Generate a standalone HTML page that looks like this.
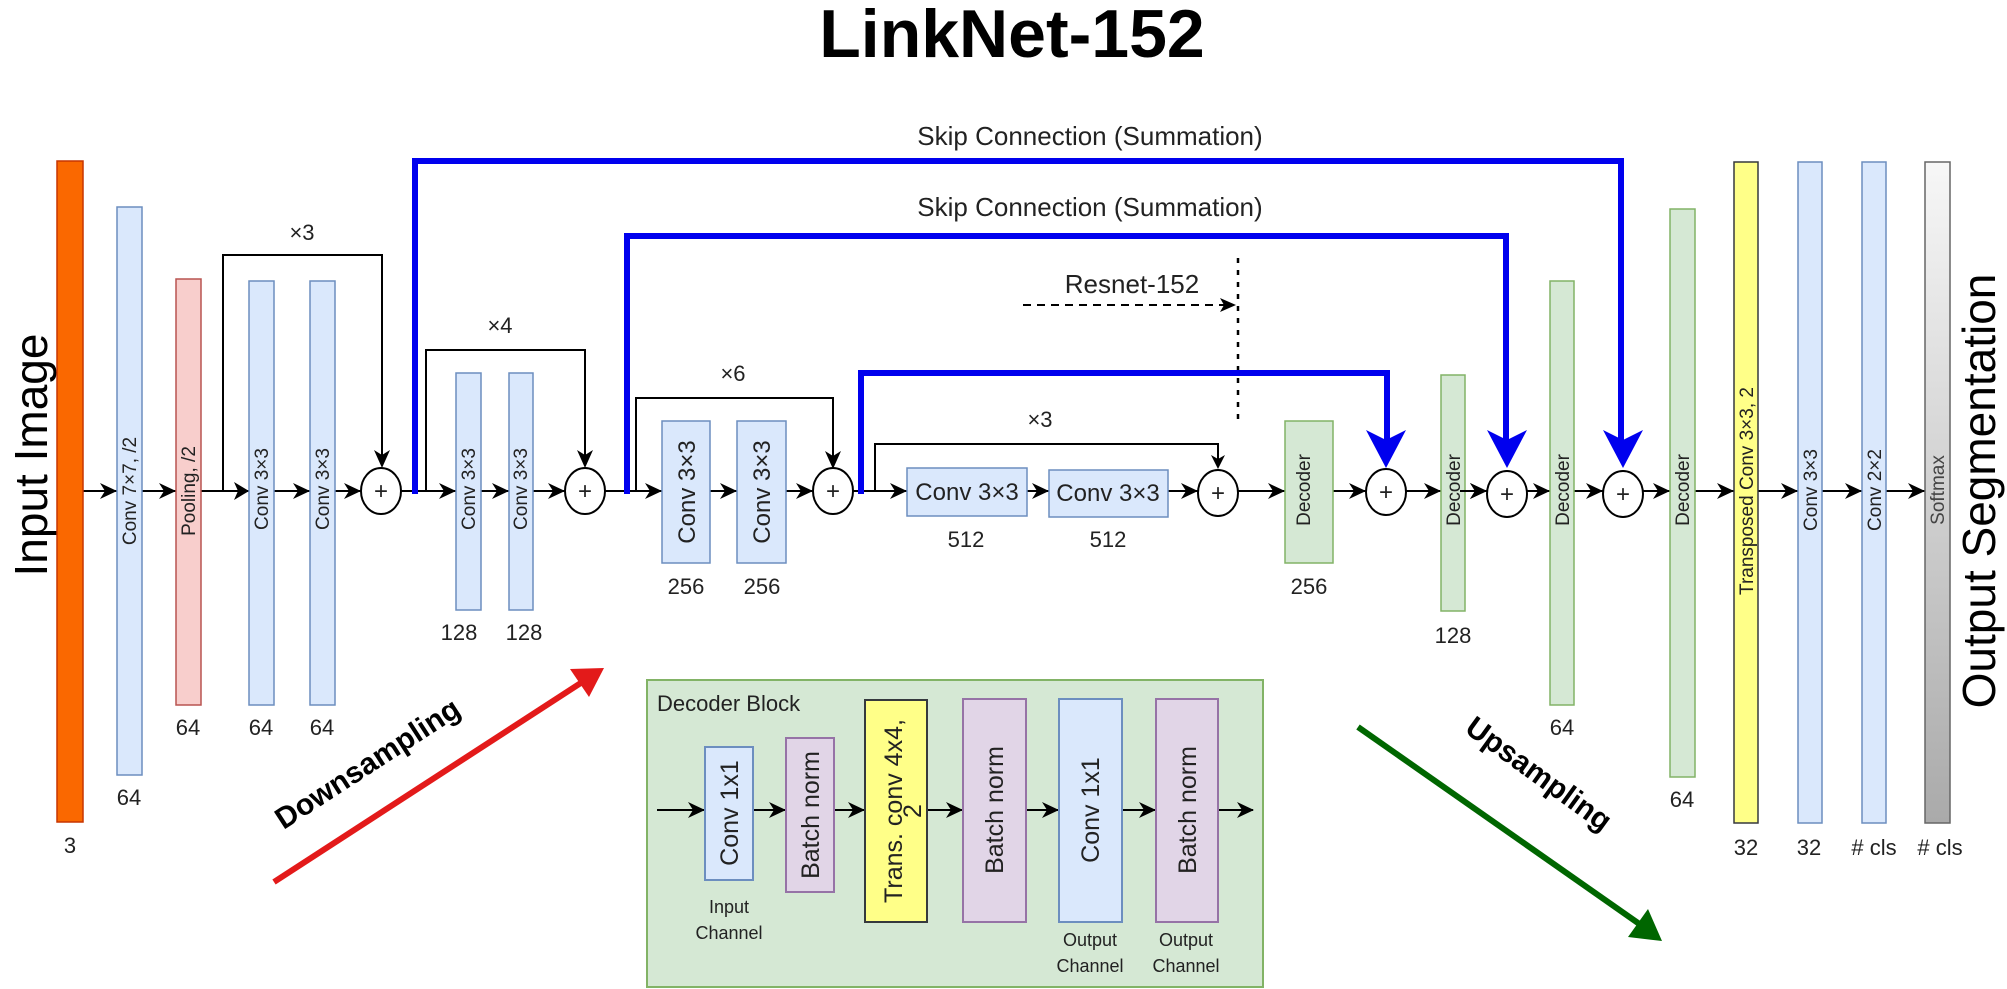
<!DOCTYPE html>
<html><head><meta charset="utf-8"><style>
html,body{margin:0;padding:0;background:#fff;}
svg{display:block;}
text{font-family:"Liberation Sans",Arial,sans-serif;fill:#222;}
</style></head><body>
<svg width="2007" height="989" viewBox="0 0 2007 989" xmlns="http://www.w3.org/2000/svg">
<defs>
<marker id="ah" viewBox="0 0 10 10" refX="9" refY="5" markerWidth="7" markerHeight="7" markerUnits="userSpaceOnUse" orient="auto">
</marker>
<linearGradient id="gs" x1="0" y1="0" x2="0" y2="1"><stop offset="0" stop-color="#f7f7f7"/><stop offset="1" stop-color="#aaaaaa"/></linearGradient>
</defs>

<!-- Title -->
<text x="1012" y="57" font-size="68" font-weight="bold" text-anchor="middle" style="fill:#000">LinkNet-152</text>
<text x="1090" y="145" font-size="26" text-anchor="middle">Skip Connection (Summation)</text>
<text x="1090" y="216" font-size="26" text-anchor="middle">Skip Connection (Summation)</text>
<text x="1132" y="293" font-size="26" text-anchor="middle">Resnet-152</text>

<!-- side labels -->
<text transform="translate(47,455) rotate(-90)" font-size="46" text-anchor="middle" style="fill:#000">Input Image</text>
<text transform="translate(1995,491) rotate(-90)" font-size="46" text-anchor="middle" style="fill:#000">Output Segmentation</text>

<!-- main line -->
<line x1="83" y1="491" x2="1925" y2="491" stroke="#000" stroke-width="2"/>

<!-- brackets -->
<g fill="none" stroke="#000" stroke-width="2">
<path d="M223,491 V255 H382 V460"/>
<path d="M426,491 V350 H585 V460"/>
<path d="M636,491 V398 H833 V460"/>
<path d="M875,491 V444 H1218 V462"/>
<path d="M1238,258 V421" stroke-dasharray="5,7" stroke-width="2.5"/>
<path d="M1023,305 H1225" stroke-dasharray="8,6"/>
</g>
<polygon points="1236,305 1220,298 1224,305 1220,312" fill="#000"/>
<text x="302" y="240" font-size="22" text-anchor="middle">×3</text>
<text x="500" y="333" font-size="22" text-anchor="middle">×4</text>
<text x="733" y="381" font-size="22" text-anchor="middle">×6</text>
<text x="1040" y="427" font-size="22" text-anchor="middle">×3</text>
<!-- bracket arrowheads -->
<g fill="#000">
<polygon points="382,468 374,450 382,455 390,450"/>
<polygon points="585,468 577,450 585,455 593,450"/>
<polygon points="833,469 825,451 833,456 841,451"/>
<polygon points="1218,469 1211,455 1218,459 1225,455"/>
</g>

<!-- blue skip lines -->
<g fill="none" stroke="#0000ee" stroke-width="6">
<path d="M415,494 V161 H1621 V440"/>
<path d="M627,494 V236 H1506 V440"/>
<path d="M861,494 V373 H1387 V440"/>
</g>
<g fill="#0000ee">
<polygon points="1623,468 1603,430 1623,440 1643,430"/>
<polygon points="1507,468 1487,430 1507,440 1527,430"/>
<polygon points="1386,468 1366,430 1386,440 1406,430"/>
</g>

<!-- main arrowheads -->
<g fill="#000">
<polygon points="117,491 100,483 105,491 100,499"/>
<polygon points="176,491 159,483 164,491 159,499"/>
<polygon points="249,491 234,482 238,491 234,500"/>
<polygon points="310,491 293,483 298,491 293,499"/>
<polygon points="361,491 344,483 349,491 344,499"/>
<polygon points="456,491 439,483 444,491 439,499"/>
<polygon points="509,491 492,483 497,491 492,499"/>
<polygon points="565,491 548,483 553,491 548,499"/>
<polygon points="662,491 645,483 650,491 645,499"/>
<polygon points="737,491 720,483 725,491 720,499"/>
<polygon points="813,491 796,483 801,491 796,499"/>
<polygon points="907,491 890,483 895,491 890,499"/>
<polygon points="1049,491 1032,483 1037,491 1032,499"/>
<polygon points="1198,491 1181,483 1186,491 1181,499"/>
<polygon points="1285,491 1268,483 1273,491 1268,499"/>
<polygon points="1366,491 1349,483 1354,491 1349,499"/>
<polygon points="1441,491 1424,483 1429,491 1424,499"/>
<polygon points="1487,491 1470,483 1475,491 1470,499"/>
<polygon points="1550,491 1533,483 1538,491 1533,499"/>
<polygon points="1603,491 1586,483 1591,491 1586,499"/>
<polygon points="1670,491 1653,483 1658,491 1653,499"/>
<polygon points="1734,491 1717,483 1722,491 1717,499"/>
<polygon points="1798,491 1781,483 1786,491 1781,499"/>
<polygon points="1862,491 1845,483 1850,491 1845,499"/>
<polygon points="1925,491 1908,483 1913,491 1908,499"/>
</g>

<!-- encoder bars -->
<rect x="57" y="161" width="26" height="661" fill="#fa6800" stroke="#c73500" stroke-width="1.5"/>
<g stroke-width="1.5">
<rect x="117" y="207" width="25" height="568" fill="#dae8fc" stroke="#6c8ebf"/>
<rect x="176" y="279" width="25" height="426" fill="#f8cecc" stroke="#b85450"/>
<rect x="249" y="281" width="25" height="424" fill="#dae8fc" stroke="#6c8ebf"/>
<rect x="310" y="281" width="25" height="424" fill="#dae8fc" stroke="#6c8ebf"/>
<rect x="456" y="373" width="25" height="237" fill="#dae8fc" stroke="#6c8ebf"/>
<rect x="509" y="373" width="24" height="237" fill="#dae8fc" stroke="#6c8ebf"/>
<rect x="662" y="421" width="48" height="142" fill="#dae8fc" stroke="#6c8ebf"/>
<rect x="737" y="421" width="49" height="142" fill="#dae8fc" stroke="#6c8ebf"/>
<rect x="907" y="468" width="120" height="48" fill="#dae8fc" stroke="#6c8ebf"/>
<rect x="1049" y="470" width="119" height="47" fill="#dae8fc" stroke="#6c8ebf"/>
<!-- decoder bars -->
<rect x="1285" y="421" width="48" height="142" fill="#d5e8d4" stroke="#82b366"/>
<rect x="1441" y="375" width="24" height="236" fill="#d5e8d4" stroke="#82b366"/>
<rect x="1550" y="281" width="24" height="424" fill="#d5e8d4" stroke="#82b366"/>
<rect x="1670" y="209" width="25" height="568" fill="#d5e8d4" stroke="#82b366"/>
<rect x="1734" y="162" width="24" height="661" fill="#ffff88" stroke="#36393d"/>
<rect x="1798" y="162" width="24" height="661" fill="#dae8fc" stroke="#6c8ebf"/>
<rect x="1862" y="162" width="24" height="661" fill="#dae8fc" stroke="#6c8ebf"/>
<rect x="1925" y="162" width="25" height="661" fill="url(#gs)" stroke="#666"/>
</g>
<!-- redraw small connector pieces over decoder128 -->
<line x1="1460" y1="491" x2="1480" y2="491" stroke="#000" stroke-width="2"/>
<polygon points="1487,491 1470,483 1475,491 1470,499" fill="#000"/>

<!-- circles -->
<g fill="#fff" stroke="#000" stroke-width="2">
<ellipse cx="381" cy="491" rx="20" ry="23"/>
<ellipse cx="585" cy="491" rx="20" ry="23"/>
<ellipse cx="833" cy="491" rx="20" ry="23"/>
<ellipse cx="1218" cy="493" rx="20" ry="23"/>
<ellipse cx="1386" cy="492" rx="20" ry="23"/>
<ellipse cx="1507" cy="494" rx="20" ry="23"/>
<ellipse cx="1623" cy="494" rx="20" ry="23"/>
</g>
<g font-size="24" text-anchor="middle">
<text x="381" y="499">+</text><text x="585" y="499">+</text><text x="833" y="499">+</text>
<text x="1218" y="501">+</text><text x="1386" y="500">+</text><text x="1507" y="502">+</text><text x="1623" y="502">+</text>
</g>

<!-- vertical labels in bars -->
<g font-size="19" text-anchor="middle">
<text transform="translate(136,491) rotate(-90)">Conv 7×7, /2</text>
<text transform="translate(195,491) rotate(-90)">Pooling, /2</text>
<text transform="translate(268,489) rotate(-90)">Conv 3×3</text>
<text transform="translate(329,489) rotate(-90)">Conv 3×3</text>
<text transform="translate(475,489) rotate(-90)">Conv 3×3</text>
<text transform="translate(527,489) rotate(-90)">Conv 3×3</text>
<text transform="translate(1310,490) rotate(-90)">Decoder</text>
<text transform="translate(1460,490) rotate(-90)">Decoder</text>
<text transform="translate(1569,490) rotate(-90)">Decoder</text>
<text transform="translate(1689,490) rotate(-90)">Decoder</text>
<text transform="translate(1753,491) rotate(-90)">Transposed Conv 3×3, 2</text>
<text transform="translate(1817,490) rotate(-90)">Conv 3×3</text>
<text transform="translate(1881,490) rotate(-90)">Conv 2×2</text>
<text transform="translate(1944,490) rotate(-90)" style="fill:#444">Softmax</text>
</g>
<g font-size="24" text-anchor="middle">
<text transform="translate(695,492) rotate(-90)">Conv 3×3</text>
<text transform="translate(770,492) rotate(-90)">Conv 3×3</text>
<text x="967" y="500">Conv 3×3</text>
<text x="1108" y="501">Conv 3×3</text>
</g>

<!-- numbers -->
<g font-size="22" text-anchor="middle">
<text x="70" y="853">3</text>
<text x="129" y="805">64</text>
<text x="188" y="735">64</text>
<text x="261" y="735">64</text>
<text x="322" y="735">64</text>
<text x="459" y="640">128</text>
<text x="524" y="640">128</text>
<text x="686" y="594">256</text>
<text x="762" y="594">256</text>
<text x="966" y="547">512</text>
<text x="1108" y="547">512</text>
<text x="1309" y="594">256</text>
<text x="1453" y="643">128</text>
<text x="1562" y="735">64</text>
<text x="1682" y="807">64</text>
<text x="1746" y="855">32</text>
<text x="1809" y="855">32</text>
<text x="1874" y="855"># cls</text>
<text x="1940" y="855"># cls</text>
</g>

<!-- Downsampling / Upsampling -->
<line x1="274" y1="882" x2="590" y2="677" stroke="#e31a1a" stroke-width="6"/>
<polygon points="604,668 570,669 589,697" fill="#e31a1a"/>
<text transform="translate(373,772) rotate(-33)" font-size="30" font-weight="bold" text-anchor="middle" style="fill:#000">Downsampling</text>
<line x1="1358" y1="727" x2="1648" y2="930" stroke="#006600" stroke-width="6"/>
<polygon points="1662,941 1628,937 1648,909" fill="#006600"/>
<text transform="translate(1533,782) rotate(36)" font-size="30" font-weight="bold" text-anchor="middle" style="fill:#000">Upsampling</text>

<!-- Decoder Block -->
<rect x="647" y="680" width="616" height="307" fill="#d5e8d4" stroke="#82b366" stroke-width="2"/>
<text x="657" y="711" font-size="22">Decoder Block</text>
<line x1="657" y1="810" x2="1253" y2="810" stroke="#000" stroke-width="2"/>
<g fill="#000">
<polygon points="705,810 688,802 693,810 688,818"/>
<polygon points="786,810 769,802 774,810 769,818"/>
<polygon points="865,810 848,802 853,810 848,818"/>
<polygon points="963,810 946,802 951,810 946,818"/>
<polygon points="1059,810 1042,802 1047,810 1042,818"/>
<polygon points="1156,810 1139,802 1144,810 1139,818"/>
<polygon points="1254,810 1237,802 1242,810 1237,818"/>
</g>
<g stroke-width="2">
<rect x="705" y="747" width="48" height="133" fill="#dae8fc" stroke="#6c8ebf"/>
<rect x="786" y="738" width="48" height="154" fill="#e1d5e7" stroke="#9673a6"/>
<rect x="865" y="700" width="62" height="222" fill="#ffff88" stroke="#36393d"/>
<rect x="963" y="699" width="63" height="223" fill="#e1d5e7" stroke="#9673a6"/>
<rect x="1059" y="699" width="63" height="223" fill="#dae8fc" stroke="#6c8ebf"/>
<rect x="1156" y="699" width="62" height="223" fill="#e1d5e7" stroke="#9673a6"/>
</g>
<g font-size="25" text-anchor="middle">
<text transform="translate(738,813) rotate(-90)">Conv 1x1</text>
<text transform="translate(819,815) rotate(-90)">Batch norm</text>
<text transform="translate(902,811) rotate(-90)">Trans. conv 4x4,</text>
<text transform="translate(921,811) rotate(-90)">2</text>
<text transform="translate(1003,810) rotate(-90)">Batch norm</text>
<text transform="translate(1099,810) rotate(-90)">Conv 1x1</text>
<text transform="translate(1196,810) rotate(-90)">Batch norm</text>
</g>
<g font-size="18" text-anchor="middle">
<text x="729" y="913">Input</text><text x="729" y="939">Channel</text>
<text x="1090" y="946">Output</text><text x="1090" y="972">Channel</text>
<text x="1186" y="946">Output</text><text x="1186" y="972">Channel</text>
</g>
</svg>
</body></html>
